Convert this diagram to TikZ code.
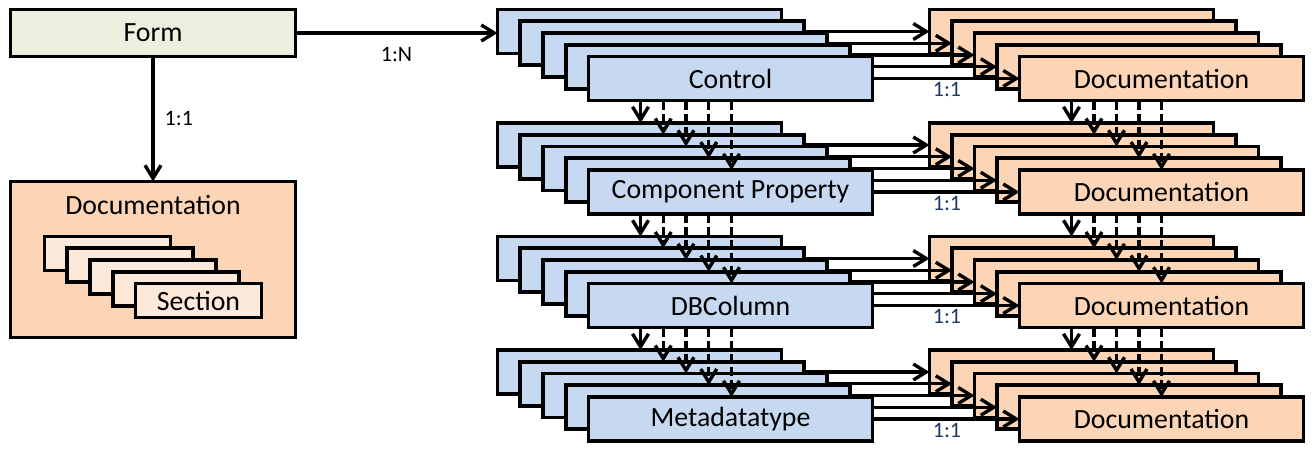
\documentclass[tikz,border=0pt]{standalone}
\usepackage{fontspec}
\setmainfont{Carlito}
\usetikzlibrary{arrows.meta,calc}
\definecolor{formfill}{HTML}{EBF1DE}
\definecolor{ctrlfill}{HTML}{C6D9F1}
\definecolor{docfill}{HTML}{FBD5B5}
\definecolor{secfill}{HTML}{FDE9D9}
\definecolor{lblblue}{HTML}{1F3864}
\begin{document}
\begin{tikzpicture}[x=0.5pt,y=-0.5pt,
  box/.style={draw=black, line width=1.9pt, rectangle, inner sep=0pt, outer sep=0pt,
    anchor=north west, font=\fontsize{13.9}{16}\selectfont},
  cbox/.style={box, fill=ctrlfill, minimum width=142pt, minimum height=22pt},
  dbox/.style={box, fill=docfill, minimum width=142pt, minimum height=22pt},
  sbox/.style={box, fill=secfill, minimum width=63pt, minimum height=17pt},
  conn/.style={draw=black, line width=1.7pt, -{Straight Barb[length=6.5pt,width=8pt]}},
  dconn/.style={conn, dash pattern=on 4.5pt off 2pt},
  lbl/.style={font=\fontsize{11}{13}\selectfont, inner sep=0pt}
]
\useasboundingbox (0,0) rectangle (1314,451);

% left part
\node[box, fill=formfill, minimum width=142.5pt, minimum height=23.5pt] (form) at (10.5,9.5) {Form};
\node[box, fill=docfill, minimum width=142.5pt, minimum height=78pt] (fdoc) at (10.5,181.5) {};
\node[font=\fontsize{13.9}{16}\selectfont, inner sep=0pt] (fdoctitle) at (153,205) {Documentation};
\foreach \k in {0,...,4}{
  \pgfmathsetmacro\sx{44.5+22.75*\k}
  \pgfmathsetmacro\sy{236.5+11.75*\k}
  \node[sbox] (s\k) at (\sx,\sy) {\ifnum\k=4 Section\fi};
}
\draw[conn] (form.south) -- (fdoc.north) node[lbl, midway, anchor=west, xshift=5pt] {1:1};

% right part
\foreach \r/\name in {0/Control,1/Component Property,2/DBColumn,3/Metadatatype}{
  \foreach \k in {0,...,4}{
    \pgfmathsetmacro\yy{9.5+113.5*\r+11.75*\k}
    \pgfmathsetmacro\cx{497.5+22.75*\k}
    \pgfmathsetmacro\dx{929.5+22.5*\k}
    \node[cbox] (c\r\k) at (\cx,\yy) {\ifnum\k=4 \name\fi};
    \node[dbox] (d\r\k) at (\dx,\yy) {\ifnum\k=4 Documentation\fi};
    \draw[conn] (c\r\k.east) -- (d\r\k.west);
  }
  \node[lbl, text=lblblue] (l\r) at (947,{90+113.5*\r}) {1:1};
  \ifnum\r>0
    \pgfmathtruncatemacro\p{\r-1}
    \foreach \j in {0,...,4}{
      \coordinate (tc\r\j) at ($(c\r\j.north west)+(143,0)$);
      \coordinate (td\r\j) at ($(d\r\j.north west)+(142,0)$);
      \ifnum\j=0
        \draw[conn] (c\p4.south -| tc\r\j) -- (tc\r\j);
        \draw[conn] (d\p4.south -| td\r\j) -- (td\r\j);
      \else
        \draw[dconn] (c\p4.south -| tc\r\j) -- (tc\r\j);
        \draw[dconn] (d\p4.south -| td\r\j) -- (td\r\j);
      \fi
    }
  \fi
}

\draw[conn] (form.east) -- (form.east -| c00.west) node[lbl, midway, yshift=-11pt] {1:N};
\end{tikzpicture}
\end{document}
